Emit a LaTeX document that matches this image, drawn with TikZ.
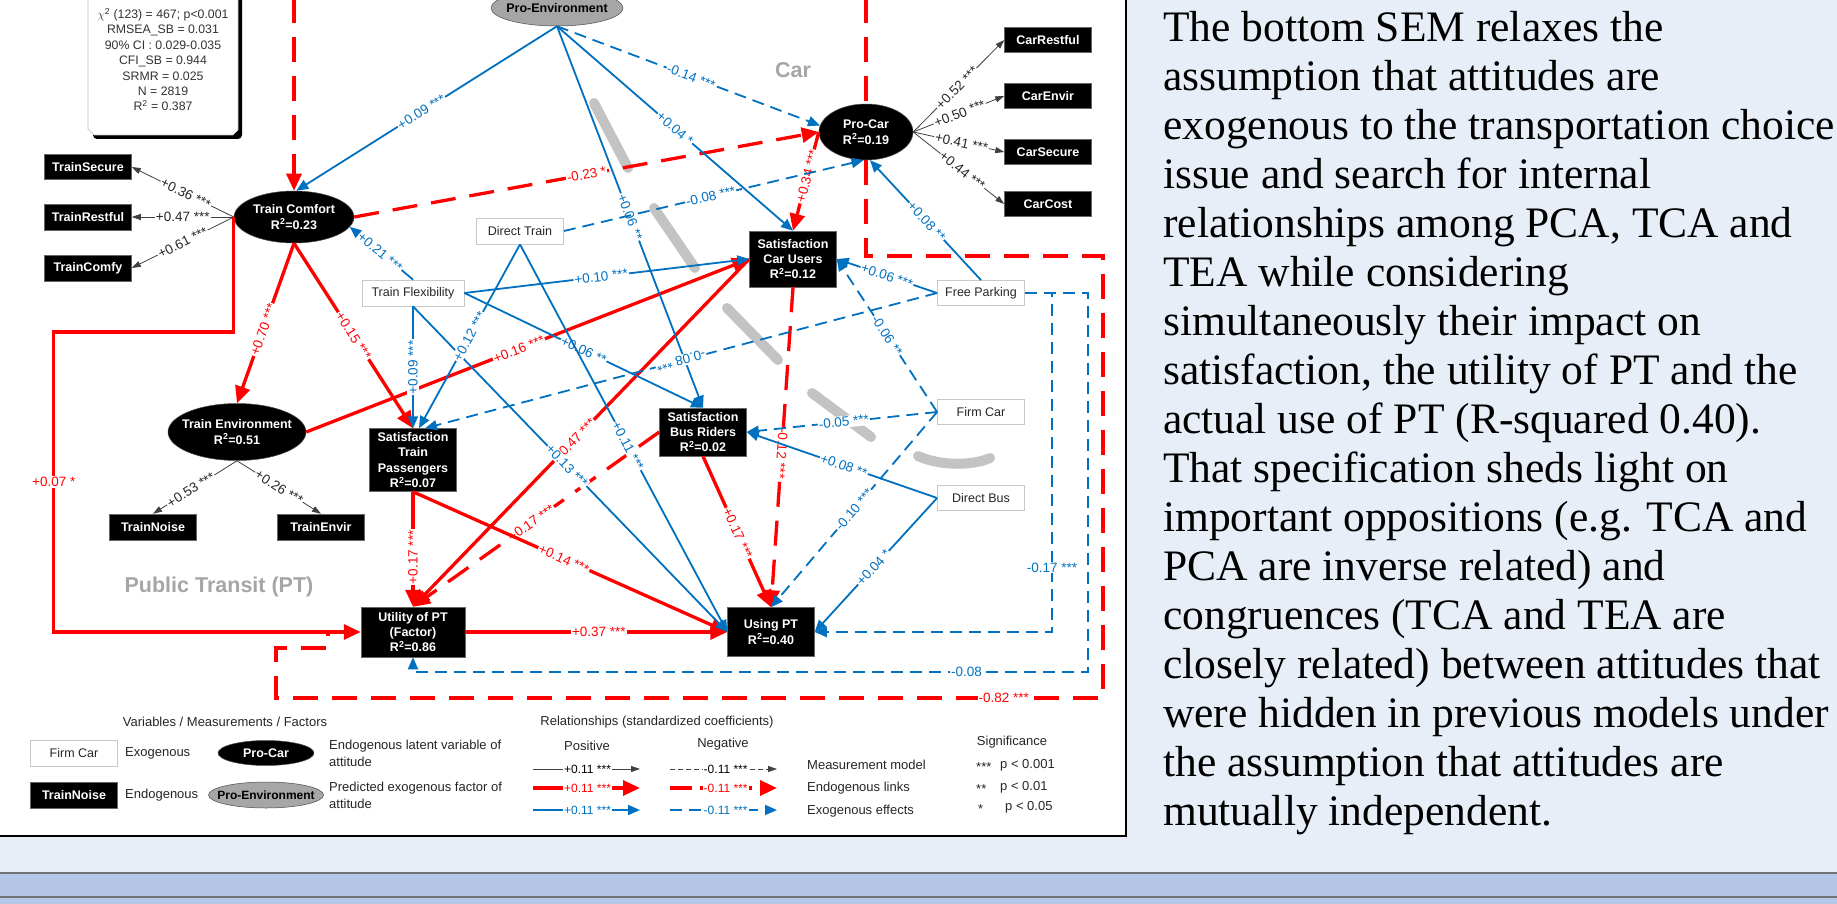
\documentclass[tikz,border=0pt]{standalone}
\usepackage{fontspec}
\setmainfont{Liberation Sans}
\newfontfamily\serifpara{Liberation Serif}
\usetikzlibrary{arrows.meta,shapes.geometric}
\definecolor{cblue}{HTML}{0070C0}
\definecolor{cred}{HTML}{FF0000}
\definecolor{pagebg}{HTML}{E8EEF8}
\definecolor{bandbg}{HTML}{B4C7E7}
\definecolor{regiongray}{HTML}{A6A6A6}
\definecolor{decogray}{HTML}{C3C3C3}
\definecolor{pegray}{HTML}{A6A6A6}
\definecolor{exoedge}{HTML}{C8C8C8}
\newcommand{\fsz}[2]{\fontsize{#1pt}{#2pt}\selectfont}
\newcommand{\rsq}[1]{R\textsuperscript{2}=#1}
\begin{document}
\begin{tikzpicture}[x=1pt,y=-1pt,
  exo/.style={draw=exoedge, fill=white, line width=0.8pt, minimum width=87pt, minimum height=26pt, inner sep=0pt, font=\fsz{12.5}{15}, text=black!85},
  endo/.style={draw=black!60, fill=black, line width=0.5pt, text=white, font=\bfseries\fsz{12.5}{15.4}, minimum width=87pt, inner sep=0pt, align=center},
  latshape/.style={ellipse, fill=black, draw=black!70, line width=0.5pt, inner sep=0pt},
  lattext/.style={text=white, font=\bfseries\fsz{12.5}{15.4}, align=center, inner sep=0pt},
  bl/.style={draw=cblue, line width=1.8pt, -{Triangle[length=12pt,width=10pt]}},
  bld/.style={bl, dash pattern=on 12pt off 7pt},
  rd/.style={draw=cred, line width=3.3pt, -{Triangle[length=17pt,width=15pt]}},
  rdd/.style={rd, dash pattern=on 25pt off 14pt},
  rdline/.style={draw=cred, line width=3.3pt, dash pattern=on 25pt off 14pt},
  ms/.style={draw=black!75, line width=0.8pt, -{Triangle[length=9pt,width=6pt]}},
  lab/.style={fill=white, inner sep=1pt, font=\fsz{13.5}{15}},
  bll/.style={lab, text=cblue},
  bls/.style={bll, sloped},
  rll/.style={lab, text=cred},
  rls/.style={rll, sloped},
  kls/.style={lab, text=black!85, sloped},
  txt/.style={font=\fsz{13}{17}, text=black!85, inner sep=0pt},
  leglab/.style={font=\fsz{12}{14}},
]
\useasboundingbox (0,0) rectangle (1837,904);
% page background
\fill[pagebg] (0,0) rectangle (1837,904);
\fill[bandbg] (0,873) rectangle (1837,904);
\draw[black!55, line width=1.5pt] (0,873) -- (1837,873);
\draw[black!55, line width=1.5pt] (0,897) -- (1837,897);
\draw[line width=2.5pt, fill=white] (-10,-10) rectangle (1126,836);

% gray separator strokes
\begin{scope}[draw=decogray, line width=10pt, line cap=round]
\draw (594,103) -- (628,168);
\draw (654,208) -- (695,268);
\draw (727,308) -- (778,360);
\draw (812,393) -- (871,437);
\draw (918,456) .. controls (940,466) and (972,466) .. (990,458);
\end{scope}

% stats box
\fill[black, rounded corners=4pt] (93,-10) rectangle (242,139);
\filldraw[fill=white, draw=black!25, line width=0.6pt] (88,-10) -- (88,129) -- (94,135) -- (233,135) -- (238,130) -- (238,-10) -- cycle;
\node[anchor=north, align=center, font=\fsz{12.3}{15.4}, text=black!80, inner sep=0pt] (stats) at (163,8)
 {$\chi$\textsuperscript{2} (123) = 467; p<0.001\\RMSEA\_SB = 0.031\\90\% CI : 0.029-0.035\\CFI\_SB = 0.944\\SRMR = 0.025\\N = 2819\\R\textsuperscript{2} = 0.387};

% region labels
\node[font=\bfseries\fsz{21.5}{24}, text=regiongray] (carlab) at (793,70) {Car};
\node[font=\bfseries\fsz{21.5}{24}, text=regiongray] (ptlab) at (219,587) {Public Transit (PT)};

% latent nodes
\node[latshape, fill=pegray, draw=black!70, minimum width=132pt, minimum height=36pt, label={[lattext, text=black]center:Pro-Environment}] (pe) at (557,8) {};
\node[latshape, minimum width=120pt, minimum height=52pt, label={[lattext]center:{Train Comfort\\\rsq{0.23}}}] (tc) at (294,217) {};
\node[latshape, minimum width=94pt, minimum height=56pt, label={[lattext]center:{Pro-Car\\\rsq{0.19}}}] (pc) at (866,132) {};
\node[latshape, minimum width=138pt, minimum height=57pt, label={[lattext]center:{Train Environment\\\rsq{0.51}}}] (te) at (237,432) {};

% measurement boxes
\node[endo, minimum height=25pt] (ts) at (88,167) {TrainSecure};
\node[endo, minimum height=26pt] (tr) at (88,217) {TrainRestful};
\node[endo, minimum height=26pt] (tcf) at (88,268) {TrainComfy};
\node[endo, minimum height=26pt] (tn) at (153,527) {TrainNoise};
\node[endo, minimum height=26pt] (tenv) at (321,527) {TrainEnvir};
\node[endo, minimum height=25pt] (cr) at (1048,40) {CarRestful};
\node[endo, minimum height=25pt] (ce) at (1048,96) {CarEnvir};
\node[endo, minimum height=25pt] (cs) at (1048,152) {CarSecure};
\node[endo, minimum height=25pt] (cc) at (1048,204) {CarCost};

% endogenous boxes
\node[endo, minimum height=56pt] (scu) at (793,259) {Satisfaction\\Car Users\\\rsq{0.12}};
\node[endo, minimum height=48pt] (sbr) at (703,432) {Satisfaction\\Bus Riders\\\rsq{0.02}};
\node[endo, minimum height=63pt] (stp) at (413,460) {Satisfaction\\Train\\Passengers\\\rsq{0.07}};
\node[endo, minimum width=104pt, minimum height=50pt] (util) at (413,632) {Utility of PT\\(Factor)\\\rsq{0.86}};
\node[endo, minimum height=49pt] (using) at (771,632) {Using PT\\\rsq{0.40}};

% exogenous boxes
\node[exo] (dt) at (520,231) {Direct Train};
\node[exo, minimum width=102pt] (tf) at (413,293) {Train Flexibility};
\node[exo, minimum height=25pt] (fp) at (981,293) {Free Parking};
\node[exo, minimum height=25pt] (fc) at (981,412) {Firm Car};
\node[exo, minimum height=25pt] (db) at (981,498) {Direct Bus};

\coordinate (topL) at (294,-2);
\coordinate (topR) at (866,-2);

% measurement links
\draw[ms] (tc.west) -- node[kls,pos=.47]{+0.36 ***} (ts.east);
\draw[ms] (tc.west) -- node[kls,pos=.5]{+0.47 ***} (tr.east);
\draw[ms] (tc.west) -- node[kls,pos=.5]{+0.61 ***} (tcf.east);
\draw[ms] (te.south) -- node[kls,pos=.55]{+0.53 ***} (tn.north);
\draw[ms] (te.south) -- node[kls,pos=.5]{+0.26 ***} (tenv.north);
\draw[ms] (pc.east) -- node[kls,pos=.48]{+0.52 ***} (cr.west);
\draw[ms] (pc.east) -- node[kls,pos=.51]{+0.50 ***} (ce.west);
\draw[ms] (pc.east) -- node[kls,pos=.53]{+0.41 ***} (cs.west);
\draw[ms] (pc.east) -- node[kls,pos=.54]{+0.44 ***} (cc.west);

% red endogenous links
\draw[rdd] (topL) -- (tc.north);
\draw[rdline] (topR) -- (pc.north);
\draw[rdline] (pc.south) -- (866,256) -- (1103,256) -- (1103,698) -- node[rll,pos=.12]{-0.82 ***} (276,698) -- (276,648) -- (328,648) -- (328,632);
\draw[rd] (tc.west) -- ++(0,115) -- ++(-180,0) |- node[rll,pos=.25]{+0.07 *} (util.west);
\draw[rd] (tc.south) -- node[rls,pos=.54]{+0.70 ***} (te.north);
\draw[rd] (tc.south) -- node[rls,pos=.5]{+0.15 ***} (stp.north);
\draw[rdd] (tc.east) -- node[rls,pos=.5]{-0.23 *} (pc.west);
\draw[rd] (te.east) -- node[rls,pos=.48]{+0.16 ***} (scu.west);
\draw[rd] (pc.west) -- node[rls,pos=.45]{+0.34 ***} (scu.north);
\draw[rdd] (scu.south) -- node[rls,allow upside down,pos=.52]{-0.12 ***} (using.north);
\draw[rd] (scu.west) -- node[rls,pos=.52]{+0.47 ***} (util.north);
\draw[rdd] (sbr.west) -- node[rls,pos=.52]{+0.17 ***} (util.north);
\draw[rd] (stp.south) -- node[rll,pos=.57,rotate=90]{+0.17 ***} (util.north);
\draw[rd] (stp.south) -- node[rls,pos=.48]{+0.14 ***} (using.west);
\draw[rd] (util.east) -- node[rll,pos=.51]{+0.37 ***} (using.west);
\draw[rd] (sbr.south) -- node[rls,pos=.51]{+0.17 ***} (using.north);

% blue exogenous links
\draw[bl] (pe.south) -- node[bls,pos=.52]{+0.09 ***} (tc.85);
\draw[bl] (pe.south) -- node[bls,pos=.5]{+0.04 *} (scu.north);
\draw[bl] (pe.south) -- node[bls,pos=.5]{+0.06 **} (sbr.north);
\draw[bld] (pe.south) -- node[bls,pos=.51]{-0.14 ***} (pc.172);
\draw[bl] (tf.north) -- node[bls,pos=.52]{+0.21 ***} (tc.-10);
\draw[bl] (tf.east) -- node[bls,pos=.48]{+0.10 ***} (scu.west);
\draw[bl] (tf.south) -- node[bll,pos=.5,rotate=90]{+0.09 ***} (stp.north);
\draw[bl] (tf.east) -- node[bls,pos=.5]{+0.06 **} (sbr.north);
\draw[bl] (tf.south) -- node[bls,pos=.49]{+0.13 ***} (using.west);
\draw[bl] (dt.south) -- node[bls,pos=.52]{+0.11 ***} (using.west);
\draw[bl] (dt.south) -- node[bls,pos=.5]{+0.12 ***} ([xshift=6pt]stp.north);
\draw[bld] (dt.east) -- node[bls,pos=.49]{-0.08 ***} (pc.265);
\draw[bl] (fp.north) -- node[bls,pos=.49]{+0.08 **} (pc.278);
\draw[bl] (fp.west) -- node[bls,pos=.5]{+0.06 ***} (scu.east);
\draw[bld] (fc.west) -- node[bls,pos=.5]{-0.06 **} (scu.east);
\draw[bld] (fp.west) -- node[bls,allow upside down,pos=.5]{-0.08 ***} ([xshift=12pt]stp.north);
\draw[bld] (fc.west) -- node[bls,pos=.49]{-0.05 ***} (sbr.east);
\draw[bld] (fc.west) -- node[bls,pos=.5]{-0.10 ***} (using.north);
\draw[bl] (db.west) -- node[bls,pos=.49]{+0.08 **} (sbr.east);
\draw[bl] (db.west) -- node[bls,pos=.52]{+0.04 *} (using.east);
\draw[bld] (fp.east) -- (1052,293) -- node[bll,pos=.81]{-0.17 ***} (1052,632) -- (using.east);
\draw[bld] (fp.east) -- (1088,293) -- (1088,672) -- node[bll,pos=.18]{-0.08} (413,672) -- (util.south);

% legend
\node[txt] (lgv) at (225,722) {Variables / Measurements / Factors};
\node[exo] (lfc) at (74,753) {Firm Car};
\node[txt, anchor=west] (lexo) at (125,753) {Exogenous};
\node[latshape, minimum width=96pt, minimum height=25pt, label={[lattext]center:Pro-Car}] (lpc) at (266,753) {};
\node[txt, anchor=west, align=left] (lendl) at (329,753) {Endogenous latent variable of\\attitude};
\node[endo, minimum height=26pt] (ltn) at (74,795) {TrainNoise};
\node[txt, anchor=west] (lendo) at (125,795) {Endogenous};
\node[latshape, fill=pegray, minimum width=115pt, minimum height=26pt, label={[lattext,text=black,font=\bfseries\fsz{12}{14}]center:Pro-Environment}] (lpe) at (266,795) {};
\node[txt, anchor=west, align=left] (lpred) at (329,795) {Predicted exogenous factor of\\attitude};

\node[txt] (lrel) at (657,722) {Relationships (standardized coefficients)};
\node[txt] (lpos) at (587,746) {Positive};
\node[txt] (lneg) at (723,744) {Negative};
\coordinate (a1) at (533,769); \coordinate (b1) at (640,769);
\coordinate (c1) at (670,769); \coordinate (d1) at (777,769);
\coordinate (a2) at (533,788); \coordinate (b2) at (640,788);
\coordinate (c2) at (670,788); \coordinate (d2) at (777,788);
\coordinate (a3) at (533,810); \coordinate (b3) at (640,810);
\coordinate (c3) at (670,810); \coordinate (d3) at (777,810);
\draw[ms] (a1) -- node[lab,pos=.51,leglab]{+0.11 ***} (b1);
\draw[ms, dash pattern=on 5pt off 3pt] (c1) -- node[lab,pos=.52,leglab]{-0.11 ***} (d1);
\draw[rd] (a2) -- node[rll,pos=.51,leglab]{+0.11 ***} (b2);
\draw[rd, dash pattern=on 22pt off 8pt] (c2) -- node[rll,pos=.52,leglab]{-0.11 ***} (d2);
\draw[bl] (a3) -- node[bll,pos=.51,leglab]{+0.11 ***} (b3);
\draw[bld] (c3) -- node[bll,pos=.52,leglab]{-0.11 ***} (d3);
\node[txt, anchor=west] (lmm) at (807,765) {Measurement model};
\node[txt, anchor=west] (lel) at (807,788) {Endogenous links};
\node[txt, anchor=west] (lee) at (807,811) {Exogenous effects};
\node[txt] (lsig) at (1012,742) {Significance};
\node[txt, anchor=west] (ls3) at (976,767) {***};
\node[txt, anchor=west] (lp3) at (1000,765) {p < 0.001};
\node[txt, anchor=west] (ls2) at (976,789) {**};
\node[txt, anchor=west] (lp2) at (1000,787) {p < 0.01};
\node[txt, anchor=west] (ls1) at (978,809) {*};
\node[txt, anchor=west] (lp1) at (1005,807) {p < 0.05};

% paragraph
\node[anchor=north west, inner sep=0pt, align=left, font=\serifpara\fsz{43.5}{49}, text=black] (para) at (1163,11)
{The bottom SEM relaxes the\\
assumption that attitudes are\\
exogenous to the transportation choice\\
issue and search for internal\\
relationships among PCA, TCA and\\
TEA while considering\\
simultaneously their impact on\\
satisfaction, the utility of PT and the\\
actual use of PT (R-squared 0.40).\\
That specification sheds light on\\
important oppositions (e.g. TCA and\\
PCA are inverse related) and\\
congruences (TCA and TEA are\\
closely related) between attitudes that\\
were hidden in previous models under\\
the assumption that attitudes are\\
mutually independent.};
\end{tikzpicture}
\end{document}
